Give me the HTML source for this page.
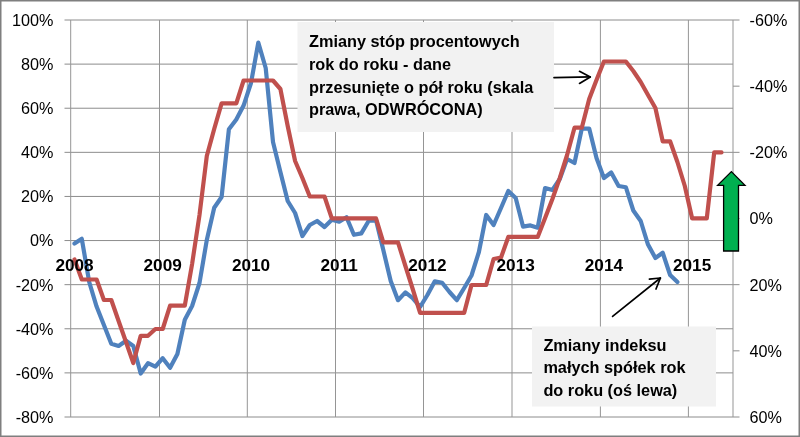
<!DOCTYPE html>
<html><head><meta charset="utf-8"><title>Chart</title>
<style>html,body{margin:0;padding:0;background:#fff;}body{width:800px;height:437px;overflow:hidden;font-family:"Liberation Sans",sans-serif;}svg{display:block;will-change:transform;}</style>
</head><body>
<svg width="800" height="437" viewBox="0 0 800 437">
<rect x="0" y="0" width="800" height="437" fill="#fff"/>
<line x1="64.5" y1="20.00" x2="733.0" y2="20.00" stroke="#8c8c8c" stroke-width="1"/>
<line x1="64.5" y1="64.11" x2="733.0" y2="64.11" stroke="#8c8c8c" stroke-width="1"/>
<line x1="64.5" y1="108.22" x2="733.0" y2="108.22" stroke="#8c8c8c" stroke-width="1"/>
<line x1="64.5" y1="152.33" x2="733.0" y2="152.33" stroke="#8c8c8c" stroke-width="1"/>
<line x1="64.5" y1="196.44" x2="733.0" y2="196.44" stroke="#8c8c8c" stroke-width="1"/>
<line x1="64.5" y1="240.56" x2="733.0" y2="240.56" stroke="#8c8c8c" stroke-width="1"/>
<line x1="64.5" y1="284.67" x2="733.0" y2="284.67" stroke="#8c8c8c" stroke-width="1"/>
<line x1="64.5" y1="328.78" x2="733.0" y2="328.78" stroke="#8c8c8c" stroke-width="1"/>
<line x1="64.5" y1="372.89" x2="733.0" y2="372.89" stroke="#8c8c8c" stroke-width="1"/>
<line x1="64.5" y1="417.00" x2="733.0" y2="417.00" stroke="#8c8c8c" stroke-width="1"/>
<line x1="733.0" y1="20.00" x2="739.5" y2="20.00" stroke="#8c8c8c" stroke-width="1"/>
<line x1="733.0" y1="86.17" x2="739.5" y2="86.17" stroke="#8c8c8c" stroke-width="1"/>
<line x1="733.0" y1="152.33" x2="739.5" y2="152.33" stroke="#8c8c8c" stroke-width="1"/>
<line x1="733.0" y1="218.50" x2="739.5" y2="218.50" stroke="#8c8c8c" stroke-width="1"/>
<line x1="733.0" y1="284.67" x2="739.5" y2="284.67" stroke="#8c8c8c" stroke-width="1"/>
<line x1="733.0" y1="350.83" x2="739.5" y2="350.83" stroke="#8c8c8c" stroke-width="1"/>
<line x1="733.0" y1="417.00" x2="739.5" y2="417.00" stroke="#8c8c8c" stroke-width="1"/>
<line x1="159.50" y1="20.0" x2="159.50" y2="417.0" stroke="#959595" stroke-width="1"/>
<line x1="247.30" y1="20.0" x2="247.30" y2="417.0" stroke="#959595" stroke-width="1"/>
<line x1="335.50" y1="20.0" x2="335.50" y2="417.0" stroke="#959595" stroke-width="1"/>
<line x1="423.50" y1="20.0" x2="423.50" y2="417.0" stroke="#959595" stroke-width="1"/>
<line x1="512.00" y1="20.0" x2="512.00" y2="417.0" stroke="#959595" stroke-width="1"/>
<line x1="600.40" y1="20.0" x2="600.40" y2="417.0" stroke="#959595" stroke-width="1"/>
<line x1="688.40" y1="20.0" x2="688.40" y2="417.0" stroke="#959595" stroke-width="1"/>
<line x1="70.7" y1="20.0" x2="70.7" y2="417.0" stroke="#959595" stroke-width="1"/>
<line x1="733.0" y1="20.0" x2="733.0" y2="417.0" stroke="#959595" stroke-width="1"/>
<polyline points="74.5,243.6 81.8,238.8 89.2,282.0 96.6,306.6 103.9,325.0 111.3,343.8 118.6,346.0 126.0,340.8 133.3,346.0 140.7,373.5 148.0,363.2 155.4,366.7 162.7,358.2 170.1,367.8 177.4,354.0 184.8,319.7 192.1,306.0 199.5,283.0 206.8,240.0 214.2,207.8 221.6,197.0 228.9,129.3 236.3,119.5 243.6,105.6 251.0,83.0 258.3,42.6 265.7,68.0 273.0,142.0 280.4,172.0 287.7,201.0 295.1,213.0 302.4,236.0 309.8,225.0 317.1,221.0 324.5,227.0 331.8,219.7 339.2,221.7 346.5,217.2 353.9,234.8 361.3,233.4 368.6,221.0 376.0,220.0 383.3,250.0 390.7,281.0 398.0,300.2 405.4,292.4 412.7,298.2 420.1,307.0 427.4,295.0 434.8,281.3 442.1,282.7 449.5,292.0 456.8,300.2 464.2,288.0 471.5,275.5 478.9,252.0 486.2,215.0 493.6,225.0 501.0,208.0 508.3,191.0 515.7,198.0 523.0,226.6 530.4,225.4 537.7,227.7 545.1,188.0 552.4,190.0 559.8,179.0 567.1,159.0 574.5,163.0 581.8,128.6 589.2,128.6 596.5,158.0 603.9,178.0 611.2,172.5 618.6,186.0 625.9,187.3 633.3,210.5 640.7,221.0 648.0,244.6 655.4,258.0 662.7,252.7 670.1,275.0 677.4,282.0" fill="none" stroke="#4F81BD" stroke-width="4.2" stroke-linejoin="round" stroke-linecap="round"/>
<polyline points="74.5,259.5 81.8,279.5 89.2,279.5 96.6,279.5 103.9,300.0 111.3,300.0 118.6,321.0 126.0,342.0 133.3,363.0 140.7,335.8 148.0,335.8 155.4,329.0 162.7,329.0 170.1,305.6 177.4,305.6 184.8,305.6 192.1,264.0 199.5,215.0 206.8,156.0 214.2,129.0 221.6,103.4 228.9,103.4 236.3,103.4 243.6,80.5 251.0,80.5 258.3,80.5 265.7,80.5 273.0,80.5 280.4,89.0 287.7,126.0 295.1,161.0 302.4,178.0 309.8,196.5 317.1,196.5 324.5,196.5 331.8,218.4 339.2,218.4 346.5,218.4 353.9,218.4 361.3,218.4 368.6,218.4 376.0,218.4 383.3,242.4 390.7,242.4 398.0,242.4 405.4,266.0 412.7,289.0 420.1,312.8 427.4,312.8 434.8,312.8 442.1,312.8 449.5,312.8 456.8,312.8 464.2,312.8 471.5,285.0 478.9,285.0 486.2,285.0 493.6,259.0 501.0,257.6 508.3,236.9 515.7,236.9 523.0,236.9 530.4,236.9 537.7,236.9 545.1,218.0 552.4,199.0 559.8,178.0 567.1,155.0 574.5,127.7 581.8,127.7 589.2,99.0 596.5,80.0 603.9,61.5 611.2,61.5 618.6,61.5 625.9,61.5 633.3,71.0 640.7,82.0 648.0,95.0 655.4,108.0 662.7,141.3 670.1,141.3 677.4,162.0 684.8,186.0 692.1,218.3 699.5,218.3 706.8,218.3 714.2,152.4 721.5,152.4" fill="none" stroke="#C0504D" stroke-width="4.2" stroke-linejoin="round" stroke-linecap="round"/>
<text x="53.5" y="25.8" text-anchor="end" font-size="16.2" font-family="Liberation Sans, sans-serif" fill="#000">100%</text>
<text x="53.5" y="69.9" text-anchor="end" font-size="16.2" font-family="Liberation Sans, sans-serif" fill="#000">80%</text>
<text x="53.5" y="114.0" text-anchor="end" font-size="16.2" font-family="Liberation Sans, sans-serif" fill="#000">60%</text>
<text x="53.5" y="158.1" text-anchor="end" font-size="16.2" font-family="Liberation Sans, sans-serif" fill="#000">40%</text>
<text x="53.5" y="202.2" text-anchor="end" font-size="16.2" font-family="Liberation Sans, sans-serif" fill="#000">20%</text>
<text x="53.5" y="246.4" text-anchor="end" font-size="16.2" font-family="Liberation Sans, sans-serif" fill="#000">0%</text>
<text x="53.5" y="290.5" text-anchor="end" font-size="16.2" font-family="Liberation Sans, sans-serif" fill="#000">-20%</text>
<text x="53.5" y="334.6" text-anchor="end" font-size="16.2" font-family="Liberation Sans, sans-serif" fill="#000">-40%</text>
<text x="53.5" y="378.7" text-anchor="end" font-size="16.2" font-family="Liberation Sans, sans-serif" fill="#000">-60%</text>
<text x="53.5" y="422.8" text-anchor="end" font-size="16.2" font-family="Liberation Sans, sans-serif" fill="#000">-80%</text>
<text x="749.5" y="25.8" font-size="16.2" font-family="Liberation Sans, sans-serif" fill="#000">-60%</text>
<text x="749.5" y="92.0" font-size="16.2" font-family="Liberation Sans, sans-serif" fill="#000">-40%</text>
<text x="749.5" y="158.1" font-size="16.2" font-family="Liberation Sans, sans-serif" fill="#000">-20%</text>
<text x="749.5" y="224.3" font-size="16.2" font-family="Liberation Sans, sans-serif" fill="#000">0%</text>
<text x="749.5" y="290.5" font-size="16.2" font-family="Liberation Sans, sans-serif" fill="#000">20%</text>
<text x="749.5" y="356.6" font-size="16.2" font-family="Liberation Sans, sans-serif" fill="#000">40%</text>
<text x="749.5" y="422.8" font-size="16.2" font-family="Liberation Sans, sans-serif" fill="#000">60%</text>
<text x="74.5" y="270.5" text-anchor="middle" font-size="17.2" font-weight="bold" font-family="Liberation Sans, sans-serif" fill="#000">2008</text>
<text x="162.7" y="270.5" text-anchor="middle" font-size="17.2" font-weight="bold" font-family="Liberation Sans, sans-serif" fill="#000">2009</text>
<text x="251.0" y="270.5" text-anchor="middle" font-size="17.2" font-weight="bold" font-family="Liberation Sans, sans-serif" fill="#000">2010</text>
<text x="339.2" y="270.5" text-anchor="middle" font-size="17.2" font-weight="bold" font-family="Liberation Sans, sans-serif" fill="#000">2011</text>
<text x="427.4" y="270.5" text-anchor="middle" font-size="17.2" font-weight="bold" font-family="Liberation Sans, sans-serif" fill="#000">2012</text>
<text x="515.7" y="270.5" text-anchor="middle" font-size="17.2" font-weight="bold" font-family="Liberation Sans, sans-serif" fill="#000">2013</text>
<text x="603.9" y="270.5" text-anchor="middle" font-size="17.2" font-weight="bold" font-family="Liberation Sans, sans-serif" fill="#000">2014</text>
<text x="692.1" y="270.5" text-anchor="middle" font-size="17.2" font-weight="bold" font-family="Liberation Sans, sans-serif" fill="#000">2015</text>
<rect x="297.5" y="22" width="256.5" height="110" fill="#F2F2F2"/>
<text x="309" y="47.3" font-size="16.3" font-weight="bold" font-family="Liberation Sans, sans-serif" fill="#000">Zmiany stóp procentowych</text>
<text x="309" y="69.9" font-size="16.3" font-weight="bold" font-family="Liberation Sans, sans-serif" fill="#000">rok do roku - dane</text>
<text x="309" y="92.6" font-size="16.3" font-weight="bold" font-family="Liberation Sans, sans-serif" fill="#000">przesunięte o pół roku (skala</text>
<text x="309" y="115.2" font-size="16.3" font-weight="bold" font-family="Liberation Sans, sans-serif" fill="#000">prawa, ODWRÓCONA)</text>
<rect x="532" y="326.5" width="184" height="80" fill="#F2F2F2"/>
<text x="543.4" y="351.0" font-size="16.3" font-weight="bold" font-family="Liberation Sans, sans-serif" fill="#000">Zmiany indeksu</text>
<text x="543.4" y="373.4" font-size="16.3" font-weight="bold" font-family="Liberation Sans, sans-serif" fill="#000">małych spółek rok</text>
<text x="543.4" y="395.9" font-size="16.3" font-weight="bold" font-family="Liberation Sans, sans-serif" fill="#000">do roku (oś lewa)</text>
<g stroke="#000" stroke-width="1.7" fill="none" stroke-linecap="round" stroke-linejoin="round">
<line x1="554" y1="77.7" x2="590.3" y2="76.9"/>
<polyline points="579.5,71.3 590.3,76.9 579.5,83.4"/>
<line x1="612.6" y1="316.4" x2="660.4" y2="278"/>
<polyline points="649.4,279.1 660.4,278 656,289"/>
</g>
<polygon points="731.4,171.6 745.0,185.4 738.5,185.4 738.5,251.0 723.6,251.0 723.6,185.4 717.6,185.4" fill="#00B050" stroke="#000" stroke-width="1.3" stroke-linejoin="miter"/>
<rect x="0.75" y="0.75" width="798.5" height="435.5" fill="none" stroke="#7f7f7f" stroke-width="1.5"/>
</svg>
</body></html>
